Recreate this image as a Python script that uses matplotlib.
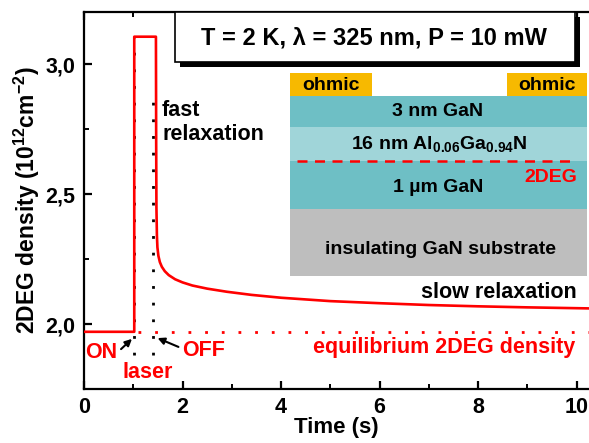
import matplotlib
matplotlib.use("Agg")
import matplotlib.pyplot as plt
from matplotlib.patches import Rectangle
from matplotlib.ticker import MultipleLocator, FuncFormatter

plt.rcParams['font.family'] = ['Liberation Sans', 'DejaVu Sans']
plt.rcParams['font.weight'] = 'bold'
plt.rcParams['mathtext.fontset'] = 'custom'
plt.rcParams['mathtext.rm'] = 'Liberation Sans:bold'
plt.rcParams['mathtext.it'] = 'Liberation Sans:bold'
plt.rcParams['mathtext.bf'] = 'Liberation Sans:bold'

# ---- data ----
time_s = [0.0, 1.02, 1.02, 1.46, 1.465, 1.47, 1.48, 1.49, 1.51, 1.54, 1.58, 1.64, 1.72,
          1.85, 2.0, 2.2, 2.5, 2.9, 3.4, 4.0, 5.0, 6.0, 7.0, 8.0, 9.0, 10.25]
density = [1.97, 1.97, 3.105, 3.105, 2.70, 2.45, 2.34, 2.295, 2.262, 2.238, 2.220, 2.203, 2.188,
           2.172, 2.160, 2.148, 2.136, 2.124, 2.112, 2.101, 2.088, 2.080, 2.073, 2.068, 2.064, 2.060]
equilibrium = 1.97
laser_on = 1.02
laser_off = 1.41
xticks = [0, 2, 4, 6, 8, 10]
yticks = [2.0, 2.5, 3.0]

W, H = 589, 443
fig = plt.figure(figsize=(W / 100, H / 100), dpi=100)
L, R, B, T = 84, 589, 389, 12
ax = fig.add_axes([L / W, 1 - B / H, (R - L) / W, (B - T) / H])
ax.set_xlim(0, 10.25)
ax.set_ylim(1.75, 3.2)

red = '#FF0000'
ax.plot(time_s, density, color=red, lw=1.9, zorder=3)
ax.plot([1.1, 10.25], [equilibrium, equilibrium], color=red, lw=2, ls=(0, (1, 5)), zorder=2)
ax.plot([laser_on, laser_on], [1.88, 3.1], color='black', lw=2, ls=(0, (1, 5)), zorder=2)
ax.plot([laser_off, laser_off], [1.88, 2.88], color='black', lw=2, ls=(0, (1, 5)), zorder=2)

for s in ax.spines.values():
    s.set_linewidth(1.6)
ax.spines['right'].set_visible(False)
ax.set_xticks(xticks)
ax.set_yticks(yticks)
ax.xaxis.set_minor_locator(MultipleLocator(1))
ax.yaxis.set_minor_locator(MultipleLocator(0.25))
ax.yaxis.set_major_formatter(FuncFormatter(lambda v, p: f"{v:.1f}".replace('.', ',')))
ax.tick_params(which='major', direction='in', length=6, width=1.6, labelsize=15.5, top=True)
ax.tick_params(axis='x', which='major', pad=6)
ax.tick_params(axis='y', which='major', pad=6)
ax.tick_params(which='minor', direction='in', length=3.5, width=1.4, top=True)
ax.set_xlabel('Time (s)', fontsize=16, fontweight='bold', labelpad=-1)
ax.set_ylabel('2DEG density (10$^{12}$cm$^{-2}$)', fontsize=16.5, fontweight='bold', labelpad=3)

def px(x, y):
    return ((x - L) / (R - L), (B - y) / (B - T))

fs = 15.5
# annotations
ax.text(*px(85, 352), 'ON', transform=ax.transAxes, color=red, fontsize=fs, fontweight='bold', va='center', ha='left')
ax.text(*px(148, 373), 'laser', transform=ax.transAxes, color=red, fontsize=fs, fontweight='bold', va='center', ha='center')
ax.text(*px(182, 351), 'OFF', transform=ax.transAxes, color=red, fontsize=fs, fontweight='bold', va='center', ha='left')
ax.annotate('', xy=px(134, 337), xytext=px(119, 351), xycoords='axes fraction', textcoords='axes fraction',
            arrowprops=dict(arrowstyle='-|>', color='black', lw=1.5, mutation_scale=10))
ax.annotate('', xy=px(155, 337), xytext=px(181, 348), xycoords='axes fraction', textcoords='axes fraction',
            arrowprops=dict(arrowstyle='-|>', color='black', lw=1.5, mutation_scale=10))
ax.text(*px(162, 100), 'fast\nrelaxation', transform=ax.transAxes, color='black', fontsize=fs, fontweight='bold',
        va='top', ha='left', linespacing=1.2)
ax.text(*px(577, 292), 'slow relaxation', transform=ax.transAxes, color='black', fontsize=fs, fontweight='bold',
        va='center', ha='right')
ax.text(*px(575, 347), 'equilibrium 2DEG density', transform=ax.transAxes, color=red, fontsize=fs,
        fontweight='bold', va='center', ha='right')

# title box with shadow
def fig_rect(x0, y0, x1, y1, **kw):
    r = Rectangle((x0 / W, 1 - y1 / H), (x1 - x0) / W, (y1 - y0) / H, transform=fig.transFigure, **kw)
    fig.add_artist(r)
    return r

fig_rect(180, 17, 580, 67, facecolor='black', edgecolor='none', zorder=5)
fig_rect(175, 12, 575, 62, facecolor='white', edgecolor='black', lw=1.2, zorder=6)
fig.text(374 / W, 1 - 38 / H, 'T = 2 K, λ = 325 nm, P = 10 mW', fontsize=17, fontweight='bold',
         ha='center', va='center', zorder=7)

# layer diagram
teal = '#6EBFC5'
light = '#A0D5D9'
gold = '#F7B900'
gray = '#BEBEBE'
fig_rect(290, 73, 372, 97, facecolor=gold, edgecolor='none', zorder=5)
fig_rect(507, 73, 587, 97, facecolor=gold, edgecolor='none', zorder=5)
fig_rect(290, 96, 587, 127, facecolor=teal, edgecolor='none', zorder=5)
fig_rect(290, 127, 587, 161, facecolor=light, edgecolor='none', zorder=5)
fig_rect(290, 161, 587, 209, facecolor=teal, edgecolor='none', zorder=5)
fig_rect(290, 209, 587, 276, facecolor=gray, edgecolor='none', zorder=5)

def ftxt(x, y, s, **kw):
    kw.setdefault('fontsize', 14)
    kw.setdefault('fontweight', 'bold')
    kw.setdefault('ha', 'center')
    kw.setdefault('va', 'center')
    fig.text(x / W, 1 - y / H, s, zorder=7, **kw)

ftxt(331, 86, 'ohmic')
ftxt(547, 86, 'ohmic')
ftxt(438, 112, '3 nm GaN')
ftxt(439, 144, '16 nm Al$_{0.06}$Ga$_{0.94}$N')
ftxt(438, 187, '1 µm GaN')
ftxt(440, 250, 'insulating GaN substrate')
ftxt(577, 177, '2DEG', color=red, ha='right')
fig.add_artist(plt.Line2D([297 / W, 572 / W], [1 - 161 / H, 1 - 161 / H], transform=fig.transFigure,
                          color=red, lw=1.8, ls=(0, (4, 3)), zorder=6))

fig.savefig('out.png', dpi=100)
